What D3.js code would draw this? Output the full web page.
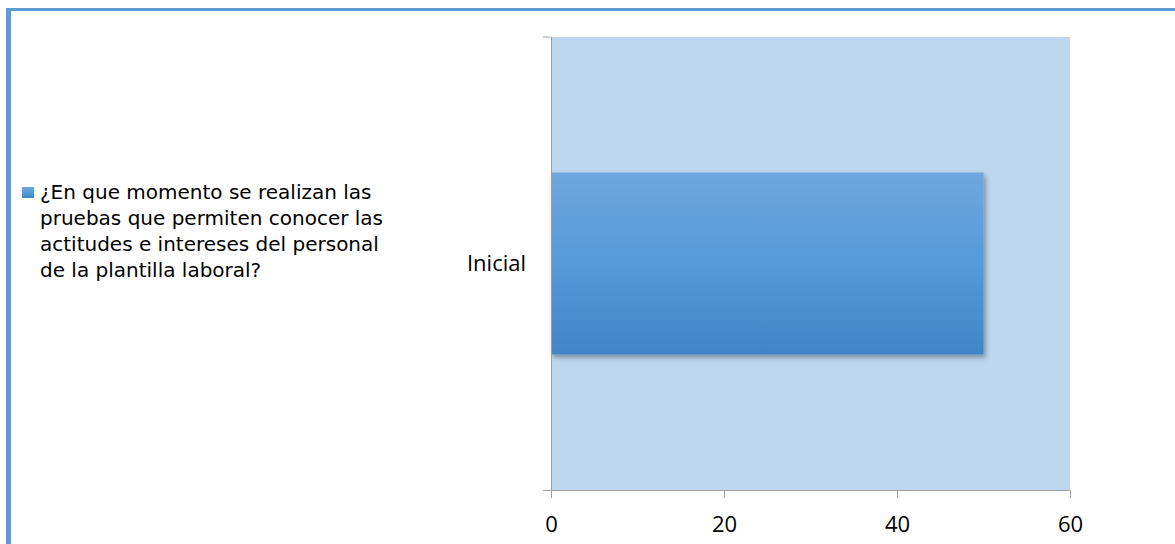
<!DOCTYPE html>
<html>
  <head>
    <meta charset="UTF-8" />
    <script src="https://cdnjs.cloudflare.com/ajax/libs/d3/7.8.5/d3.min.js"></script>
    <style>
      body { margin: 0; background: #fff; }
    </style>
  </head>
  <body>
    <svg id="chart" width="1175" height="544"></svg>
    <script>
      // data
      const categories = ["Inicial"];
      const values = [50];
      const xTicks = [0, 20, 40, 60];
      const seriesName = [
        "¿En que momento se realizan las",
        "pruebas que permiten conocer las",
        "actitudes e intereses del personal",
        "de la plantilla laboral?"
      ];

      const svg = d3.select("#chart");
      const plotLeft = 551, plotRight = 1070, plotTop = 37, plotBottom = 490;
      const labelFont = "'Open Sans', 'Liberation Sans', sans-serif";

      // outer frame (only left and top edges are in view)
      svg.append("rect")
        .attr("x", 6).attr("y", 8)
        .attr("width", 1175).attr("height", 3)
        .attr("fill", "#5b9bd5");
      svg.append("rect")
        .attr("x", 6).attr("y", 8)
        .attr("width", 5).attr("height", 544)
        .attr("fill", "#5b9bd5");

      const defs = svg.append("defs");
      const grad = defs.append("linearGradient")
        .attr("id", "barGrad")
        .attr("x1", 0).attr("y1", 0).attr("x2", 0).attr("y2", 1);
      grad.append("stop").attr("offset", "0%").attr("stop-color", "#6fa7dd");
      grad.append("stop").attr("offset", "50%").attr("stop-color", "#559ada");
      grad.append("stop").attr("offset", "100%").attr("stop-color", "#3f86c8");
      const shadow = defs.append("filter").attr("id", "shadow")
        .attr("x", "-5%").attr("y", "-10%").attr("width", "115%").attr("height", "130%");
      shadow.append("feDropShadow")
        .attr("dx", 2).attr("dy", 3).attr("stdDeviation", 2.5)
        .attr("flood-color", "#000").attr("flood-opacity", 0.35);

      const x = d3.scaleLinear().domain([0, 60]).range([plotLeft, plotRight]);
      const y = d3.scaleBand().domain(categories).range([plotTop, plotBottom]).padding(0.427);

      // plot area
      svg.append("rect")
        .attr("x", plotLeft).attr("y", plotTop)
        .attr("width", plotRight - plotLeft).attr("height", plotBottom - plotTop)
        .attr("fill", "#bdd7ee");

      // bars
      svg.selectAll("rect.bar")
        .data(values)
        .enter()
        .append("rect")
        .attr("class", "bar")
        .attr("x", x(0))
        .attr("y", (d, i) => y(categories[i]))
        .attr("width", d => x(d) - x(0))
        .attr("height", y.bandwidth())
        .attr("fill", "url(#barGrad)")
        .attr("filter", "url(#shadow)");

      // x axis
      const xAxis = d3.axisBottom(x).tickValues(xTicks).tickSize(8).tickPadding(18);
      const gx = svg.append("g")
        .attr("transform", `translate(0,${plotBottom})`)
        .call(xAxis);
      gx.select(".domain").attr("stroke", "#a0a0a0").attr("d", `M${plotLeft - 8},0.5H${plotRight}`);
      gx.selectAll(".tick line").attr("stroke", "#a0a0a0");
      gx.selectAll(".tick text")
        .attr("fill", "#000")
        .style("font-family", labelFont)
        .style("font-size", "22px");

      // y axis
      const yAxis = d3.axisLeft(y).tickSize(0).tickPadding(25);
      const gy = svg.append("g")
        .attr("transform", `translate(${plotLeft},0)`)
        .call(yAxis);
      gy.select(".domain").attr("stroke", "#a0a0a0").attr("d", `M-8,${plotTop}H0.5V${plotBottom}`);
      gy.selectAll(".tick text")
        .attr("fill", "#000")
        .style("font-family", labelFont)
        .style("font-size", "22px");

      // legend
      const legend = svg.append("g");
      legend.append("rect")
        .attr("x", 22).attr("y", 187)
        .attr("width", 12).attr("height", 11)
        .attr("fill", "url(#barGrad)");
      legend.append("text")
        .attr("x", 40).attr("y", 199)
        .style("font-family", "'DejaVu Sans', sans-serif")
        .style("font-size", "20px")
        .attr("fill", "#000")
        .selectAll("tspan")
        .data(seriesName)
        .enter()
        .append("tspan")
        .attr("x", 40)
        .attr("dy", (d, i) => (i === 0 ? 0 : 26))
        .text(d => d);
    </script>
  </body>
</html>
